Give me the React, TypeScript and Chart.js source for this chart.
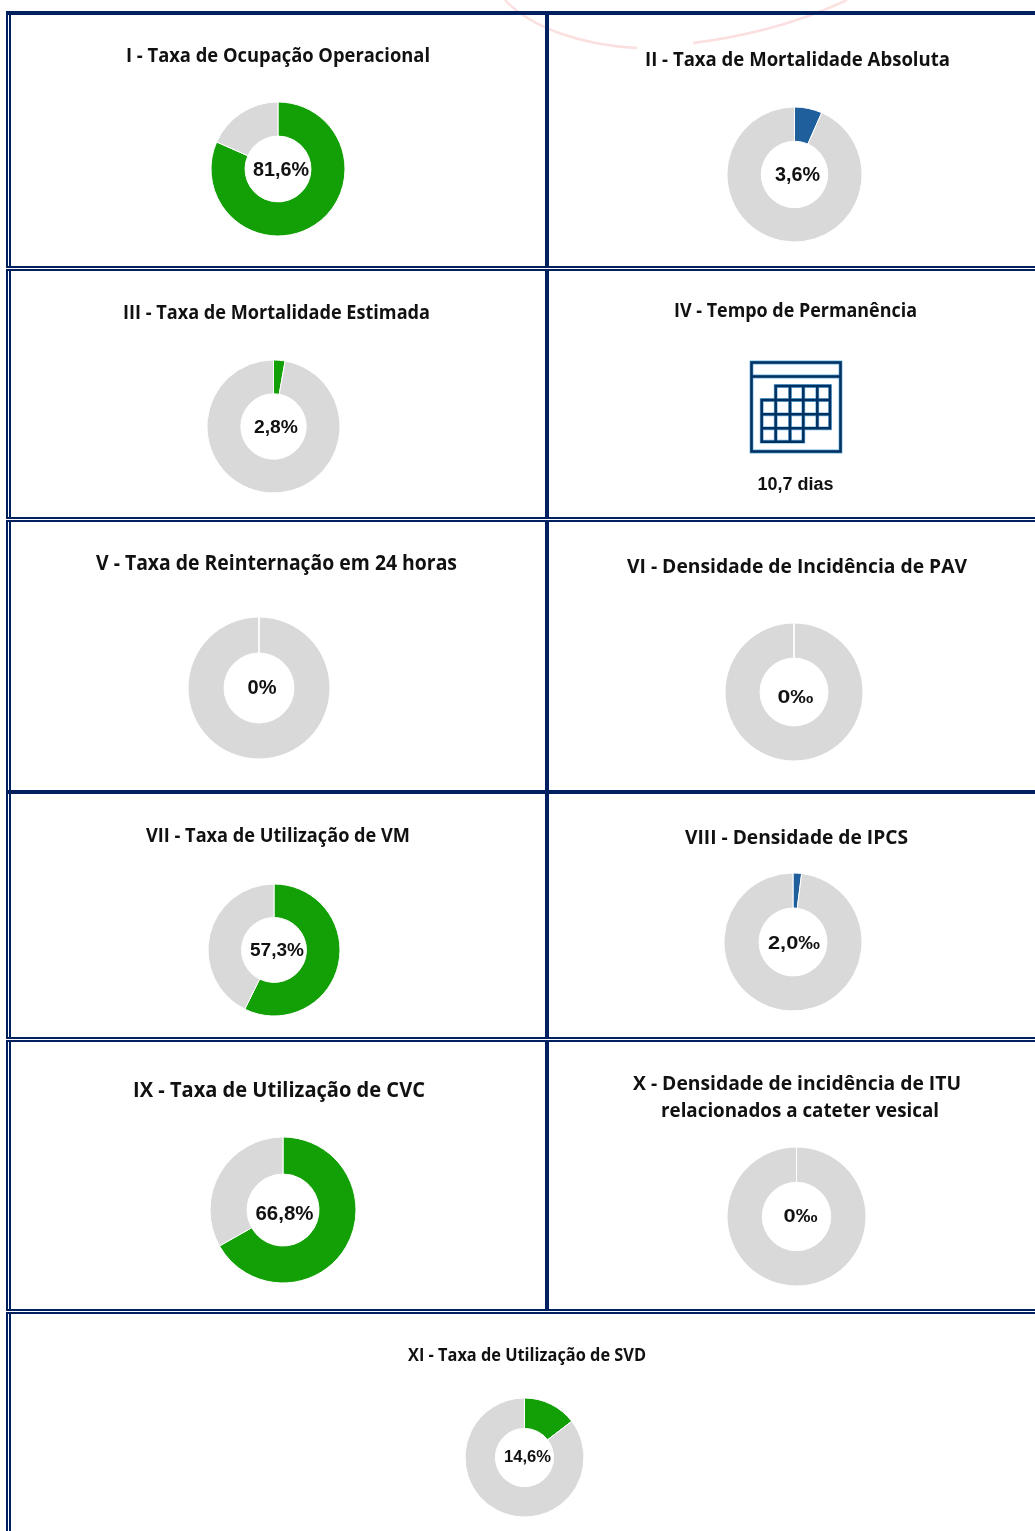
import React, { useEffect, useRef } from "react";
import { Chart, registerables } from "chart.js";

Chart.register(...registerables);

// --- data ---
const panelTitles = [
  "I - Taxa de Ocupação Operacional",
  "II - Taxa de Mortalidade Absoluta",
  "III - Taxa de Mortalidade Estimada",
  "IV - Tempo de Permanência",
  "V - Taxa de Reinternação em 24 horas",
  "VI - Densidade de Incidência de PAV",
  "VII - Taxa de Utilização de VM",
  "VIII - Densidade de IPCS",
  "IX - Taxa de Utilização de CVC",
  "X - Densidade de incidência de ITU",
  "relacionados a cateter vesical",
  "XI - Taxa de Utilização de SVD",
];
const ringLabels = ["81,6%", "3,6%", "2,8%", "0%", "0‰", "57,3%", "2,0‰", "66,8%", "0‰", "14,6%"];
const filledShares = [81.6, 6.6, 2.8, 0, 0, 57.3, 2.0, 66.8, 0, 14.6];
const stayLabel = "10,7 dias";

// --- styles ---
const GREEN = "#12A006";
const BLUE = "#1F5F9C";
const GREY = "#D9D9D9";
const NAVY = "#002060";
const INK = "#111111";
const ringColors = [GREEN, BLUE, GREEN, GREY, GREY, GREEN, BLUE, GREEN, GREY, GREEN];

// --- layout: [centre x, centre y, outer radius] ---
const ringLayout = [
  [277.5, 169.2, 67],
  [794, 174.2, 67.5],
  [273, 426.2, 66.5],
  [259, 688, 71],
  [794, 692, 69],
  [274, 949.5, 66],
  [792.5, 942, 69],
  [283, 1210, 73],
  [796.5, 1216, 69.5],
  [524, 1457, 59.5],
];
// [centre x, centre y, text width, font size]
const titleLayout = [
  [278, 54, 304, 20],
  [797.5, 58, 305, 20],
  [276.5, 311, 307, 20],
  [795.5, 309, 243, 20],
  [276.5, 562, 361, 20.5],
  [797, 565, 340, 20],
  [278, 834, 264, 19.5],
  [796.5, 836, 223, 20],
  [279, 1088, 292, 21.5],
  [797, 1082, 328, 20],
  [800, 1109, 278, 20],
  [527, 1354, 238, 17],
];
// [centre x, centre y, text width, font size]
const labelLayout = [
  [281, 169, 56, 19.5],
  [797.5, 174, 45, 19.5],
  [276, 426, 44, 19],
  [262, 687, 29, 20],
  [795.5, 696, 36, 19],
  [277, 949, 54, 19],
  [794, 942, 52, 19],
  [284.5, 1212, 58, 20.5],
  [800.5, 1215, 34, 19],
  [527.5, 1456, 47, 17],
];
const hLines = [
  [11, 4],
  [266, 2], [269, 2],
  [517, 2], [520, 2],
  [790, 4],
  [1037, 2], [1040, 2],
  [1309, 2], [1312, 2],
];
const hGaps = [268, 519, 1039, 1311];
const calColumns = [761.7, 775.7, 790, 803.3, 817.3, 830];
const calRows = [386, 400, 414.3, 428.3, 441.7];

const seamPlugin = {
  id: "seam",
  afterDatasetsDraw(chart: any) {
    const data = chart.data.datasets[0].data;
    if (data[0] !== 0) return;
    const arc = chart.getDatasetMeta(0).data[1];
    const { x, y, innerRadius, outerRadius } = arc.getProps(["x", "y", "innerRadius", "outerRadius"]);
    const ctx = chart.ctx;
    ctx.save();
    ctx.strokeStyle = "#fff";
    ctx.lineWidth = 1;
    ctx.beginPath();
    ctx.moveTo(x, y - innerRadius);
    ctx.lineTo(x, y - outerRadius);
    ctx.stroke();
    ctx.restore();
  },
};

function Ring({ index }: { index: number }) {
  const ref = useRef<HTMLCanvasElement>(null);
  const [cx, cy, r] = ringLayout[index];
  const size = Math.ceil(2 * r) + 6;
  useEffect(() => {
    const chart = new Chart(ref.current!, {
      type: "doughnut",
      data: {
        labels: ["Indicador", "Restante"],
        datasets: [
          {
            data: [filledShares[index], 100 - filledShares[index]],
            backgroundColor: [ringColors[index], GREY],
            borderColor: "#fff",
            borderWidth: 1,
            radius: r,
            cutout: r * 0.51,
          } as any,
        ],
      },
      options: {
        responsive: false,
        animation: false,
        layout: { padding: 0 },
        plugins: { legend: { display: false }, tooltip: { enabled: false } },
      },
      plugins: [seamPlugin],
    });
    return () => chart.destroy();
  }, []);
  return (
    <canvas
      ref={ref}
      width={size}
      height={size}
      style={{ position: "absolute", left: cx - size / 2, top: cy - size / 2, width: size, height: size }}
    />
  );
}

function Line({ x, y, w, h, c = NAVY }: any) {
  return <div style={{ position: "absolute", left: x, top: y, width: w, height: h, background: c }} />;
}

function Calendar() {
  const xs = calColumns;
  const ys = calRows;
  const cellPath: string[] = [];
  const add = (col: number, row: number) => {
    cellPath.push(`M${xs[col]} ${ys[row]}H${xs[col + 1]}V${ys[row + 1]}H${xs[col]}Z`);
  };
  for (let col = 1; col < 5; col++) add(col, 0);
  for (let row = 1; row < 3; row++) for (let col = 0; col < 5; col++) add(col, row);
  for (let col = 0; col < 3; col++) add(col, 3);
  const d = `M751.5 362.5H840.5V451.5H751.5ZM751.5 376.5H840.5` + cellPath.join("");
  return (
    <g fill="none">
      <path d={d} stroke="#6BB0E2" strokeWidth={3.8} />
      <path d={d} stroke="#00305E" strokeWidth={2.5} />
    </g>
  );
}

export default function App() {
  return (
    <div
      style={{
        position: "absolute",
        left: 0,
        top: 0,
        width: 1035,
        height: 1531,
        overflow: "hidden",
        background: "#fff",
      }}
    >
      <svg width={1035} height={1531} style={{ position: "absolute", left: 0, top: 0 }}>
        <path d="M505 0C530 27 580 45 637 48" fill="none" stroke="#FCDFDF" strokeWidth={2.5} />
        <path d="M693 43C750 36 800 22 847 0" fill="none" stroke="#FCDFDF" strokeWidth={2.5} />
      </svg>

      <Line x={6} y={11} w={2} h={1520} />
      <Line x={8.6} y={11} w={2} h={1520} />
      <Line x={545} y={11} w={4} h={1300} />
      {hLines.map(([y, h], i) => (
        <Line key={i} x={6} y={y} w={1029} h={h} />
      ))}
      {hGaps.map((y) => (
        <Line key={y} x={6} y={y} w={1029} h={1} c="#fff" />
      ))}

      {ringLayout.map((_, i) => (
        <Ring key={i} index={i} />
      ))}

      <svg
        width={1035}
        height={1531}
        style={{ position: "absolute", left: 0, top: 0, filter: "blur(0.35px)" }}
      >
        <Calendar />
        {panelTitles.map((t, i) => {
          const [x, y, w, s] = titleLayout[i];
          return (
            <text
              key={t}
              x={x}
              y={y}
              textAnchor="middle"
              dominantBaseline="central"
              textLength={w}
              lengthAdjust="spacingAndGlyphs"
              fontFamily="'Open Sans', 'Noto Sans', sans-serif"
              fontWeight={700}
              fontSize={s}
              fill={INK}
            >
              {t}
            </text>
          );
        })}
        {ringLabels.map((t, i) => {
          const [x, y, w, s] = labelLayout[i];
          return (
            <text
              key={i}
              x={x}
              y={y}
              textAnchor="middle"
              dominantBaseline="central"
              textLength={w}
              lengthAdjust="spacingAndGlyphs"
              fontFamily="'Liberation Sans', Arial, sans-serif"
              fontWeight={700}
              fontSize={s}
              fill={INK}
            >
              {t}
            </text>
          );
        })}
        <text
          x={795.5}
          y={484}
          textAnchor="middle"
          dominantBaseline="central"
          textLength={76}
          lengthAdjust="spacingAndGlyphs"
          fontFamily="'Liberation Sans', Arial, sans-serif"
          fontWeight={700}
          fontSize={18}
          fill={INK}
        >
          {stayLabel}
        </text>
      </svg>
    </div>
  );
}
